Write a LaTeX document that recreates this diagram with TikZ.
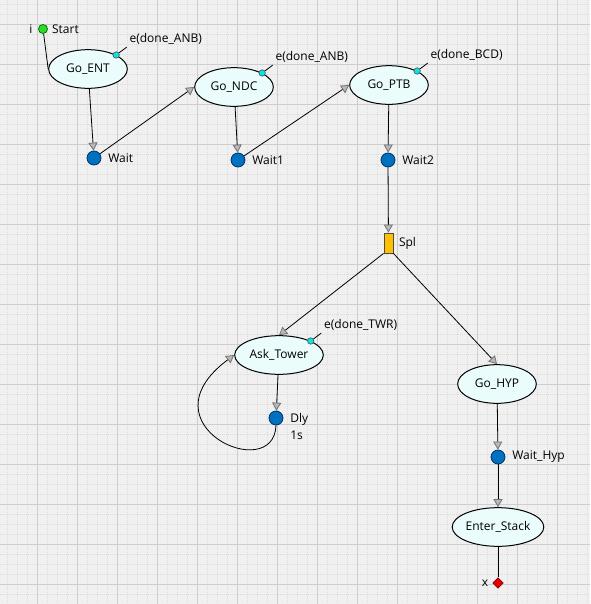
\documentclass[tikz,border=0pt]{standalone}
\usepackage{fontspec}
\setmainfont{Open Sans}
\usetikzlibrary{shapes.geometric, arrows.meta, positioning}
\definecolor{gridbg}{RGB}{240,240,240}
\definecolor{gridmajor}{RGB}{206,206,206}
\definecolor{gridminor}{RGB}{220,220,220}
\definecolor{statefill}{RGB}{234,252,252}
\definecolor{waitblue}{RGB}{0,112,192}
\definecolor{waitedge}{RGB}{0,50,100}
\definecolor{evcyan}{RGB}{0,232,232}
\definecolor{splorange}{RGB}{255,192,0}
\definecolor{startgreen}{RGB}{40,220,40}
\definecolor{endred}{RGB}{230,0,0}
\tikzset{
  state/.style={ellipse, draw=black, fill=statefill, line width=0.75pt, minimum width=59pt, minimum height=29pt, inner sep=0pt, font=\fontsize{9}{11}\selectfont},
  widestate/.style={state, minimum width=66.5pt},
  waitdot/.style={circle, draw=waitedge, fill=waitblue, line width=0.6pt, minimum size=10.5pt, inner sep=0pt},
  evdot/.style={circle, draw=black!65, fill=evcyan, line width=0.5pt, minimum size=4.8pt, inner sep=0pt},
  startdot/.style={circle, draw=green!40!black, fill=startgreen, line width=0.5pt, minimum size=6.8pt, inner sep=0pt},
  enddot/.style={diamond, draw=endred!60!black, fill=endred, line width=0.5pt, minimum size=8pt, inner sep=0pt},
  splitbar/.style={rectangle, draw=black!70, fill=splorange, line width=0.6pt, minimum width=6.75pt, minimum height=15pt, inner sep=0pt},
  txt/.style={font=\fontsize{9}{12.5}\selectfont, inner sep=2pt},
  link/.style={line width=0.6pt},
  arrow/.style={link, -{Triangle[color=black!55, fill=black!28, length=6pt, width=6.8pt]}},
  minorline/.style={gridminor, line width=0.75pt, dash pattern=on 0.75pt off 0.75pt},
  majorline/.style={gridmajor, line width=0.75pt}
}
\begin{document}
\begin{tikzpicture}[x=0.75pt, y=-0.75pt]

  % grid paper
  \useasboundingbox (0,0) rectangle (590,604);
  \fill[gridbg] (0,0) rectangle (590,604);
  \foreach \x in {7,17,...,587} \draw[minorline] (\x,0) -- (\x,604);
  \foreach \y in {4,14,...,604} \draw[minorline] (0,\y) -- (590,\y);
  \foreach \x in {37,77,...,557} \draw[majorline] (\x,0) -- (\x,604);
  \foreach \y in {24,64,...,584} \draw[majorline] (0,\y) -- (590,\y);

  \node (start) [startdot] at (43,29) {};
  \node (goENT) [state] at (88,69) {Go\_ENT};
  \node (wait) [waitdot] at (94,158) {};
  \node (goNDC) [state] at (234,87) {Go\_NDC};
  \node (wait1) [waitdot] at (238,160) {};
  \node (goPTB) [state] at (389,85) {Go\_PTB};
  \node (wait2) [waitdot] at (388,160) {};
  \node (spl) [splitbar] at (388.5,243) {};
  \node (askTower) [widestate] at (279,355) {Ask\_Tower};
  \node (dly) [waitdot] at (276,418) {};
  \node (goHYP) [state] at (497,384) {Go\_HYP};
  \node (waitHyp) [waitdot] at (498,457) {};
  \node (enterStack) [widestate] at (498,527) {Enter\_Stack};
  \node (stop) [enddot] at (498,583) {};

  % labels
  \node (iLbl) [txt, left=2pt of start] {i};
  \node (startLbl) [txt, right=1pt of start] {Start};
  \node (waitLbl) [txt, right=3pt of wait] {Wait};
  \node (wait1Lbl) [txt, right=3pt of wait1] {Wait1};
  \node (wait2Lbl) [txt, right=3pt of wait2] {Wait2};
  \node (splLbl) [txt, right=2pt of spl] {Spl};
  \node (dlyLbl) [txt, align=left, right=3pt of dly, yshift=-6.4pt] {Dly\\1s};
  \node (waitHypLbl) [txt, right=3pt of waitHyp] {Wait\_Hyp};
  \node (stopLbl) [txt, left=1pt of stop] {x};

  % events
  \node (entEv) [evdot] at (goENT.north east) {};
  \node (entEvLbl) [txt, above right=4pt and 6pt of entEv] {e(done\_ANB)};
  \node (ndcEv) [evdot] at (goNDC.north east) {};
  \node (ndcEvLbl) [txt, above right=4pt and 6pt of ndcEv] {e(done\_ANB)};
  \node (ptbEv) [evdot] at (goPTB.north east) {};
  \node (ptbEvLbl) [txt, above right=4pt and 6pt of ptbEv] {e(done\_BCD)};
  \node (twrEv) [evdot] at (askTower.north east) {};
  \node (twrEvLbl) [txt, above right=4pt and 6pt of twrEv] {e(done\_TWR)};

  \draw [link] (entEv) -- (entEvLbl.south west);
  \draw [link] (ndcEv) -- (ndcEvLbl.south west);
  \draw [link] (ptbEv) -- (ptbEvLbl.south west);
  \draw [link] (twrEv) -- (twrEvLbl.south west);

  \draw [link] (start) -- (goENT.west);
  \draw [arrow] (goENT) -- (wait);
  \draw [arrow] (wait) -- (goNDC.west);
  \draw [arrow] (goNDC) -- (wait1);
  \draw [arrow] (wait1) -- (goPTB.west);
  \draw [arrow] (goPTB) -- (wait2);
  \draw [arrow] (wait2) -- (spl);
  \draw [arrow] (spl.south west) -- (askTower.north);
  \draw [arrow] (spl.south east) -- (goHYP.north);
  \draw [arrow] (askTower) -- (dly);
  \draw [arrow] (dly.south) .. controls (274,485) and (140,425) .. (askTower.west);
  \draw [arrow] (goHYP) -- (waitHyp);
  \draw [arrow] (waitHyp) -- (enterStack);
  \draw [link] (enterStack) -- (stop);

\end{tikzpicture}
\end{document}
